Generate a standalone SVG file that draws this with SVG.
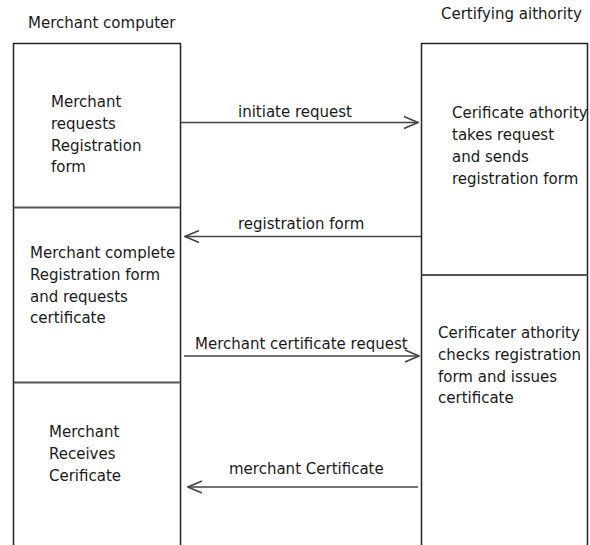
<svg xmlns="http://www.w3.org/2000/svg" width="590" height="545" viewBox="0 0 590 545">
<defs>
<style>
text{font-family:"DejaVu Sans","Liberation Sans",sans-serif;font-size:15px;fill:#1a1a1a}
.box{fill:none;stroke:#222;stroke-width:1.5}
.div{stroke:#555;stroke-width:2}
.conn{stroke:#444;stroke-width:1.5;fill:none}
</style>
<marker id="ah" viewBox="0 0 16 14" refX="15" refY="7" markerWidth="16" markerHeight="14" markerUnits="userSpaceOnUse" orient="auto">
<path d="M1,1 L15,7 L1,13" fill="none" stroke="#444" stroke-width="1.5"/>
</marker>
</defs>
<rect width="590" height="545" fill="#fff"/>
<text x="28" y="28">Merchant computer</text>
<text x="441" y="19">Certifying aithority</text>
<g id="merchant">
<path class="box" d="M13.5,546 V43.5 H180.5 V546"/>
<line class="div" x1="13.5" y1="207.5" x2="180.5" y2="207.5"/>
<line class="div" x1="13.5" y1="382.5" x2="180.5" y2="382.5"/>
</g>
<g id="authority">
<path class="box" d="M421.5,546 V43.5 H587.5 V546"/>
<line class="div" x1="421.5" y1="275" x2="587.5" y2="275"/>
</g>
<g id="m1"><text x="51" y="107">Merchant</text><text x="51" y="129">requests</text><text x="51" y="151">Registration</text><text x="51" y="172">form</text></g>
<g id="m2"><text x="30" y="258">Merchant complete</text><text x="30" y="280">Registration form</text><text x="30" y="302">and requests</text><text x="30" y="323">certificate</text></g>
<g id="m3"><text x="49" y="437">Merchant</text><text x="49" y="459">Receives</text><text x="49" y="481">Cerificate</text></g>
<g id="c1"><text x="452" y="118">Cerificate athority</text><text x="452" y="140">takes request</text><text x="452" y="162">and sends</text><text x="452" y="184">registration form</text></g>
<g id="c2"><text x="438" y="338">Cerificater athority</text><text x="438" y="360">checks registration</text><text x="438" y="382">form and issues</text><text x="438" y="403">certificate</text></g>
<g id="connectors">
<line class="conn" x1="181" y1="122.5" x2="418" y2="122.5" marker-end="url(#ah)"/>
<text x="238" y="117">initiate request</text>
<line class="conn" x1="421" y1="236.5" x2="185" y2="236.5" marker-end="url(#ah)"/>
<text x="238" y="229">registration form</text>
<line class="conn" x1="184" y1="356" x2="419" y2="356" marker-end="url(#ah)"/>
<text x="195" y="349">Merchant certificate request</text>
<line class="conn" x1="418" y1="487" x2="188" y2="487" marker-end="url(#ah)"/>
<text x="229" y="474">merchant Certificate</text>
</g>
</svg>
